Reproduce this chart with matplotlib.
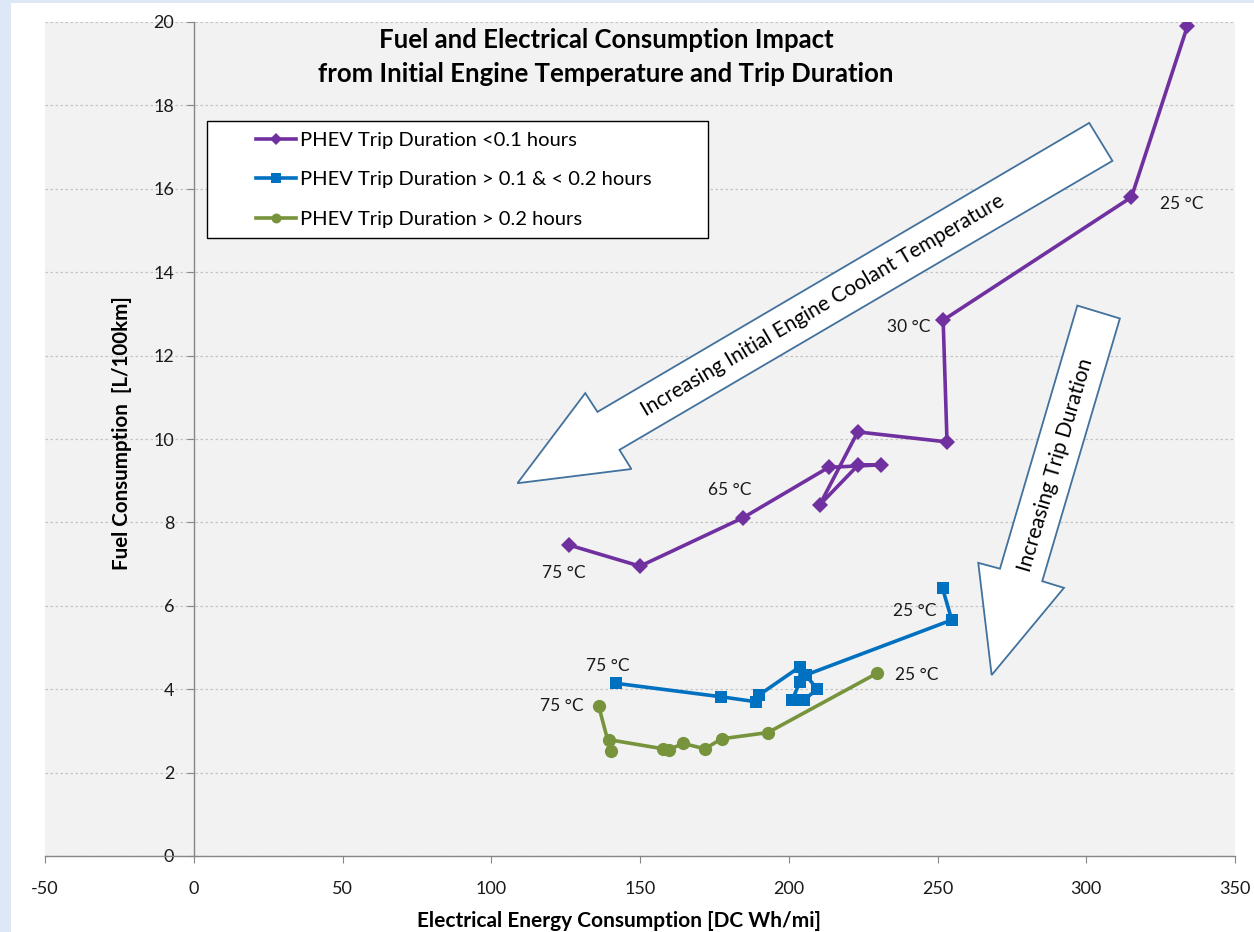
"""Fuel vs electrical consumption chart (PHEV trips by duration)."""

import matplotlib
matplotlib.use("Agg")
import matplotlib.pyplot as plt
from matplotlib.patches import Polygon, Rectangle

plt.rcParams["font.family"] = ["Lato", "DejaVu Sans"]
plt.rcParams["axes.unicode_minus"] = False

W, H = 1254, 932

# --- data -------------------------------------------------------------
short_x = [126, 150, 184.6, 213.4, 231, 223.4, 210.4, 223.2, 253.2, 251.9, 315.2, 334]
short_y = [7.46, 6.95, 8.11, 9.32, 9.38, 9.38, 8.42, 10.17, 9.93, 12.85, 15.8, 19.9]

mid_x = [142, 177.1, 188.9, 190, 203.8, 203.8, 201.2, 205.2, 209.6, 205.7, 254.8, 251.7]
mid_y = [4.14, 3.82, 3.70, 3.86, 4.54, 4.18, 3.75, 3.75, 4.0, 4.34, 5.66, 6.42]

long_x = [136.1, 140.1, 139.5, 157.8, 159.7, 164.5, 171.8, 177.4, 193, 229.6]
long_y = [3.60, 2.52, 2.79, 2.57, 2.55, 2.70, 2.57, 2.81, 2.96, 4.38]

labels = ["PHEV Trip Duration <0.1 hours",
          "PHEV Trip Duration > 0.1 & < 0.2 hours",
          "PHEV Trip Duration > 0.2 hours"]

# temperature call-outs: (series index, point index, text, offset px)
temp_notes = [
    (0, 0, "75 °C", (-5, -28)),
    (0, 2, "65 °C", (-13, 28)),
    (0, 9, "30 °C", (-34, -7)),
    (0, 10, "25 °C", (50, -7)),
    (1, 0, "75 °C", (-8, 17)),
    (1, 10, "25 °C", (-37, 9)),
    (2, 0, "75 °C", (-37, 0)),
    (2, 9, "25 °C", (40, -2)),
]

# block arrows (data coords)
arrow_temp = [(301.0, 17.58), (308.8, 16.67), (143.1, 9.74), (147.1, 9.28),
              (108.8, 8.94), (131.6, 11.10), (135.7, 10.65)]
arrow_trip = [(297.0, 13.20), (311.3, 12.89), (285.2, 6.59), (292.5, 6.43),
              (268.2, 4.34), (263.7, 7.03), (271.0, 6.89)]

# --- figure -----------------------------------------------------------
fig = plt.figure(figsize=(W / 100, H / 100), dpi=100)
fig.patch.set_facecolor("#dde7f6")
fig.patches.append(Rectangle((11 / W, 0), 1, 1 - 3 / H, transform=fig.transFigure,
                             facecolor="white", edgecolor="none", zorder=-10))

ax = fig.add_axes([45 / W, (H - 856) / H, 1190 / W, 834 / H])
ax.set_facecolor("#f2f2f2")
ax.set_xlim(-50, 350)
ax.set_ylim(0, 20)
ax.set_xticks(range(-50, 351, 50))
ax.set_yticks(range(0, 21, 2))

for s in ("top", "right"):
    ax.spines[s].set_visible(False)
ax.spines["left"].set_position(("data", 0))
for s in ("left", "bottom"):
    ax.spines[s].set_color("#868686")
    ax.spines[s].set_linewidth(1)

ax.tick_params(axis="both", direction="out", length=5, color="#868686",
               labelsize=13, labelcolor="#1a1a1a")
ax.tick_params(axis="y", pad=9)
ax.tick_params(axis="x", pad=13)
ax.yaxis.grid(True, color="#c4c4c4", linestyle=(0, (2, 2)), linewidth=0.9)
ax.set_axisbelow(True)

colors = ["#7030a0", "#0070c0", "#77933c"]
markers = ["D", "s", "o"]
msizes = [8, 9, 9.5]
series = [(short_x, short_y), (mid_x, mid_y), (long_x, long_y)]

handles = []
for (xs, ys), c, m, ms, lab in zip(series, colors, markers, msizes, labels):
    h, = ax.plot(xs, ys, color=c, lw=2.6, marker=m, markersize=ms,
                 markeredgewidth=0, label=lab, zorder=4)
    handles.append(h)

for si, pi, txt, off in temp_notes:
    xs, ys = series[si]
    ax.annotate(txt, (xs[pi], ys[pi]), xytext=off, textcoords="offset pixels",
                ha="center", va="center", fontsize=12.5, color="#1a1a1a")

for poly in (arrow_temp, arrow_trip):
    ax.add_patch(Polygon(poly, closed=True, facecolor="white",
                         edgecolor="#41719c", lw=1.3, zorder=3))

ax.text(211.4, 13.21, "Increasing Initial Engine Coolant Temperature",
        rotation=30.5, rotation_mode="anchor", ha="center", va="center",
        fontsize=15, color="black", zorder=5)
ax.text(289.6, 9.38, "Increasing Trip Duration",
        rotation=73.6, rotation_mode="anchor", ha="center", va="center",
        fontsize=15, color="black", zorder=5)

# legend with its own box
fig.patches.append(Rectangle((207 / W, 1 - 238 / H), 501 / W, 117 / H,
                             transform=fig.transFigure, facecolor="white",
                             edgecolor="black", lw=1, zorder=4))
fig.legend(handles=handles, loc="upper left",
           bbox_to_anchor=(256 / W, 1 - 132 / H), frameon=False,
           borderpad=0, borderaxespad=0, handlelength=2.0, handletextpad=0.2,
           labelspacing=1.1, markerscale=0.75, fontsize=14.5)

fig.text(606 / W, 1 - 57 / H,
         "Fuel and Electrical Consumption Impact\nfrom Initial Engine Temperature and Trip Duration",
         ha="center", va="center", fontsize=18.5, fontweight="bold",
         linespacing=1.5)
fig.text(122 / W, 1 - 433 / H, "Fuel Consumption  [L/100km]", rotation=90,
         ha="center", va="center", fontsize=14.8, fontweight="bold")
fig.text(619 / W, 1 - 921 / H, "Electrical Energy Consumption [DC Wh/mi]",
         ha="center", va="center", fontsize=15, fontweight="bold")

fig.savefig("out.png", dpi=100, facecolor=fig.get_facecolor())
